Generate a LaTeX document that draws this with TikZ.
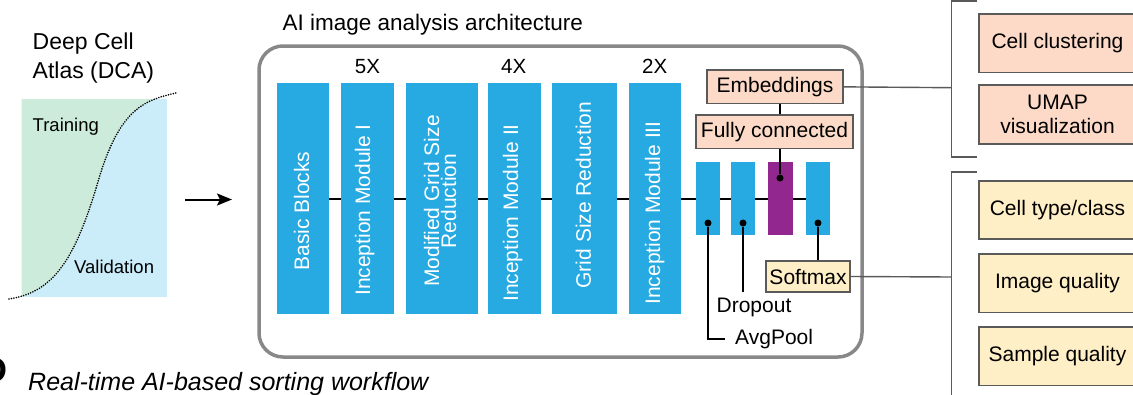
\documentclass[tikz,border=0pt]{standalone}
\usepackage{fontspec}
\setmainfont{Liberation Sans}
\usetikzlibrary{arrows.meta,calc}
\definecolor{cblue}{HTML}{27AAE1}
\definecolor{cpurple}{HTML}{92278F}
\definecolor{cpeach}{HTML}{FCDAC7}
\definecolor{cyell}{HTML}{FFEFC7}
\definecolor{cgreen}{HTML}{CDEBDA}
\definecolor{clblue}{HTML}{CBEDF9}
\definecolor{cframe}{HTML}{888888}
\definecolor{cline}{HTML}{5A5A5A}
\begin{document}
\begin{tikzpicture}[x=1pt,y=-1pt,
  blk/.style={fill=cblue, draw=none, inner sep=0pt, minimum height=231pt},
  sblk/.style={fill=cblue, draw=none, inner sep=0pt, minimum width=24pt, minimum height=73pt},
  rottxt/.style={rotate=90, text=white, font=\fontsize{21}{17}\selectfont, align=center, inner sep=0pt},
  pbox/.style={draw=cline, line width=1.2pt, fill=cpeach, inner sep=0pt, font=\fontsize{21}{24}\selectfont, align=center},
  ybox/.style={draw=cline, line width=1.2pt, fill=cyell, inner sep=0pt, font=\fontsize{21}{24}\selectfont, align=center},
  conn/.style={line width=2pt, black},
  gconn/.style={line width=1.4pt, cline},
  dotn/.style={circle, fill=black, inner sep=0pt, minimum size=7pt},
  dcurve/.style={line width=1.8pt, dash pattern=on 0pt off 2.5pt, line cap=round}
]
\useasboundingbox (0,0) rectangle (1133,394);
\clip (0,0) rectangle (1133,394);

% ---- DCA panel ----
\fill[clblue] (21.7,99) rectangle (166.7,296.7);
\begin{scope}
\clip (21.7,99) rectangle (166.7,296.7);
\fill[cgreen] (9,299) .. controls (55,292) and (76,258) .. (100,175) .. controls (121,108) and (145,100) .. (176,93) -- (176,80) -- (0,80) -- (0,299) -- cycle;
\end{scope}
\draw[dcurve] (9,299) .. controls (55,292) and (76,258) .. (100,175) .. controls (121,108) and (145,100) .. (176,93);
\node[anchor=north west, inner sep=0pt, align=left, font=\fontsize{23}{29}\selectfont] (dca) at (32.5,32.3) {Deep Cell\\Atlas (DCA)};
\node[anchor=base west, inner sep=0pt, font=\fontsize{18.5}{22}\selectfont] (train) at (32.5,131.5) {Training};
\node[anchor=base west, inner sep=0pt, font=\fontsize{18.5}{22}\selectfont] (valid) at (74,273) {Validation};
\coordinate (arrA) at (185,199.5);
\coordinate (arrB) at (232,199.5);
\draw[line width=2pt, -{Stealth[length=15pt,width=12pt,inset=3pt]}] (arrA) -- (arrB);

% ---- panel label / caption ----
\node[anchor=base east, inner sep=0pt, font=\fontsize{36}{40}\bfseries\selectfont] (plabel) at (8,382) {D};
\node[anchor=base west, inner sep=0pt, font=\fontsize{25}{28}\itshape\selectfont] (caption) at (28,390) {Real-time AI-based sorting workflow};

% ---- architecture frame ----
\node[anchor=base west, inner sep=0pt, font=\fontsize{22.5}{26}\selectfont] (title) at (282.5,30.5) {AI image analysis architecture};
\draw[cframe, line width=3.5pt, rounded corners=24pt] (259,46) rectangle (862,357);

% big blocks
\node[blk, minimum width=52.3pt] (b1) at (302.85,198.5) {};
\node[blk, minimum width=52.7pt] (b2) at (367.35,198.5) {};
\node[blk, minimum width=72pt]   (b3) at (442,198.5) {};
\node[blk, minimum width=52.7pt] (b4) at (514.35,198.5) {};
\node[blk, minimum width=64.7pt] (b5) at (584.35,198.5) {};
\node[blk, minimum width=52pt]   (b6) at (655,198.5) {};
% small blocks
\node[sblk] (b7) at (707.7,198.5) {};
\node[sblk] (b8) at (743,198.5) {};
\node[sblk, fill=cpurple, minimum width=25pt] (b9) at (780.5,198.5) {};
\node[sblk] (b10) at (818,198.5) {};

% backbone line
\draw[conn] (b1.east) -- (b2.west);
\draw[conn] (b2.east) -- (b3.west);
\draw[conn] (b3.east) -- (b4.west);
\draw[conn] (b4.east) -- (b5.west);
\draw[conn] (b5.east) -- (b6.west);
\draw[conn] (b6.east) -- (b7.west);
\draw[conn] (b7.east) -- (b8.west);
\draw[conn] (b8.east) -- (b9.west);
\draw[conn] (b9.east) -- (b10.west);

% block texts
\node[rottxt] (t1) at (301.7,211) {Basic Blocks};
\node[rottxt] (t2) at (364.7,210) {Inception Module I};
\node[rottxt] (t3) at (440,201) {Modified Grid Size\\Reduction};
\node[rottxt] (t4) at (512.8,213) {Inception Module II};
\node[rottxt] (t5) at (583.3,195) {Grid Size Reduction};
\node[rottxt] (t6) at (654.7,213) {Inception Module III};

% repeat labels
\node[anchor=base, inner sep=0pt, font=\fontsize{20.5}{24}\selectfont] (r5) at (367.5,73.3) {5X};
\node[anchor=base, inner sep=0pt, font=\fontsize{20.5}{24}\selectfont] (r4) at (513.7,73.3) {4X};
\node[anchor=base, inner sep=0pt, font=\fontsize{20.5}{24}\selectfont] (r2) at (654.7,73.3) {2X};

% head boxes
\node[pbox, minimum width=136pt, minimum height=33.7pt] (emb) at (775,86.85) {Embeddings};
\node[pbox, minimum width=157pt, minimum height=33.7pt] (fc) at (774.5,131.85) {Fully connected};
\node[ybox, minimum width=84pt, minimum height=31pt] (sm) at (808,276.5) {Softmax};

% dots
\node[dotn] (d7) at (708,223) {};
\node[dotn] (d8) at (743,223) {};
\node[dotn] (d9) at (780,178) {};
\node[dotn] (d10) at (818,223) {};

\draw[conn] (emb.south -| d9) -- (fc.north -| d9);
\draw[conn] (fc.south -| d9) -- (d9);
\draw[conn] (d10) -- (sm.north -| d10);
\coordinate (dropend) at (743,291.7);
\draw[conn] (d8) -- (dropend);
\coordinate (avgend) at (725,338.7);
\draw[conn] (d7) |- (avgend);
\node[anchor=base, inner sep=0pt, font=\fontsize{21}{24}\selectfont] (drop) at (754,312) {Dropout};
\node[anchor=base west, inner sep=0pt, font=\fontsize{21}{24}\selectfont] (avg) at (735,344.5) {AvgPool};

% ---- outputs ----
\coordinate (j1) at (951.5,87.7);
\coordinate (j2) at (951.5,277);
\draw[gconn] (emb.east) -- (j1);
\draw[gconn] (sm.east) -- (j2);
\coordinate (k1a) at (977,1);
\coordinate (k1b) at (977,157);
\coordinate (k2a) at (977,172);
\coordinate (k2b) at (951.5,400);
\draw[gconn] (k1a) -- (951.5,1) -- (951.5,157) -- (k1b);
\draw[gconn] (k2a) -- (951.5,172) -- (k2b);

\node[pbox, minimum width=157pt, minimum height=58.7pt] (cc) at (1057.5,43.35) {Cell clustering};
\node[pbox, minimum width=157pt, minimum height=59pt, font=\fontsize{21}{23.5}\selectfont] (umap) at (1057.5,114.5) {UMAP\\visualization};
\node[ybox, minimum width=157pt, minimum height=58pt] (ct) at (1057.5,210) {Cell type/class};
\node[ybox, minimum width=157pt, minimum height=58.7pt] (iq) at (1057.5,283.35) {Image quality};
\node[ybox, minimum width=157pt, minimum height=58.7pt] (sq) at (1057.5,356.35) {Sample quality};
\end{tikzpicture}
\end{document}
